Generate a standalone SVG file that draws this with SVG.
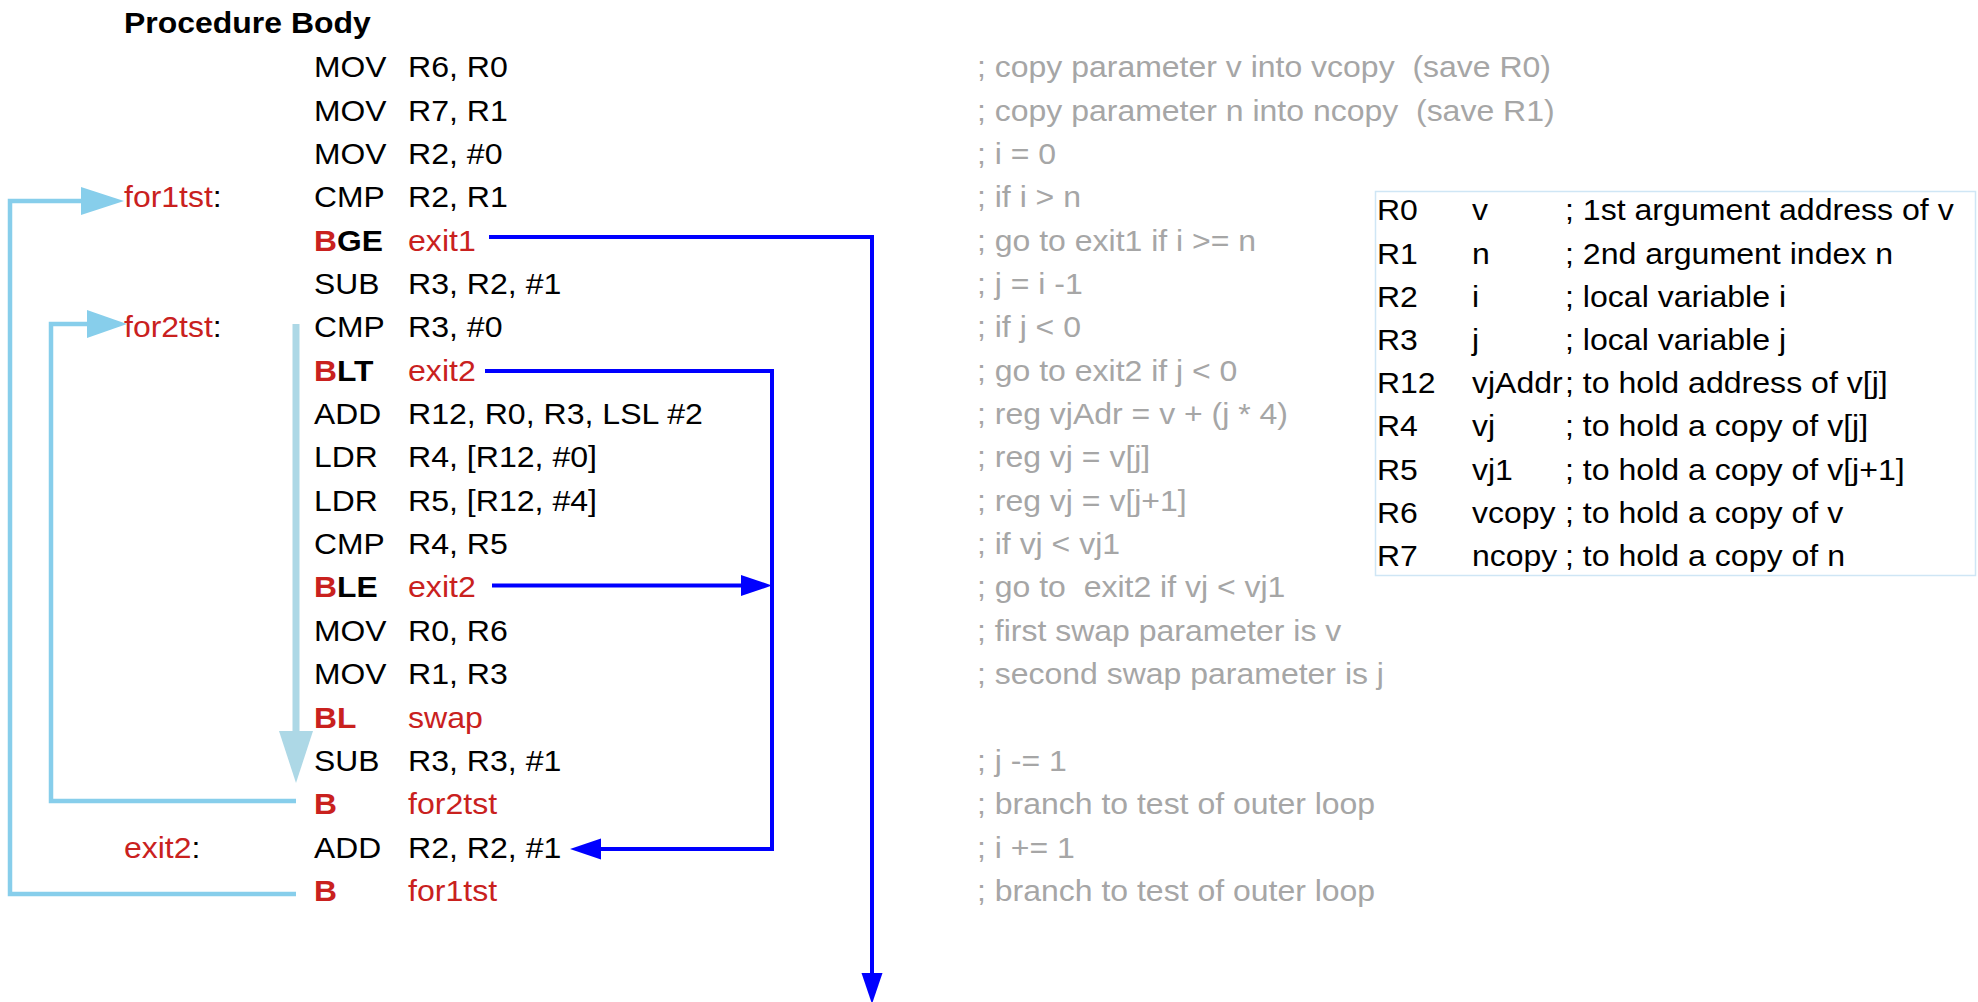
<svg xmlns="http://www.w3.org/2000/svg" width="1978" height="1002" viewBox="0 0 1978 1002">
<style>
text{font-family:"Liberation Sans",Arial,sans-serif;font-size:30px;fill:#000;white-space:pre}
.r{fill:#c9211e}
.b{font-weight:bold}
.c{fill:#a6a6a6}
.sky{fill:none;stroke:#87ceeb;stroke-width:4.5}
.blu{fill:none;stroke:#0000ff;stroke-width:4}
</style>
<rect width="1978" height="1002" fill="#fff"/>
<g id="title" transform="translate(124 0) scale(1.065 1)"><text x="0" y="33" class="b">Procedure Body</text></g>
<g id="labels" transform="translate(124 0) scale(1.065 1)">
<text x="0" y="207.35"><tspan class="r">for1tst</tspan>:</text>
<text x="0" y="337.4"><tspan class="r">for2tst</tspan>:</text>
<text x="0" y="857.6"><tspan class="r">exit2</tspan>:</text>
</g>
<g id="code">
<g id="mnemonics" transform="translate(314 0) scale(1.06 1)">
<text x="0" y="77.3">MOV</text>
<text x="0" y="120.65">MOV</text>
<text x="0" y="164">MOV</text>
<text x="0" y="207.35">CMP</text>
<text x="0" y="250.7" class="b"><tspan class="r">B</tspan>GE</text>
<text x="0" y="294.05">SUB</text>
<text x="0" y="337.4">CMP</text>
<text x="0" y="380.75" class="b"><tspan class="r">B</tspan>LT</text>
<text x="0" y="424.1">ADD</text>
<text x="0" y="467.45">LDR</text>
<text x="0" y="510.8">LDR</text>
<text x="0" y="554.15">CMP</text>
<text x="0" y="597.5" class="b"><tspan class="r">B</tspan>LE</text>
<text x="0" y="640.85">MOV</text>
<text x="0" y="684.2">MOV</text>
<text x="0" y="727.55" class="b r">BL</text>
<text x="0" y="770.9">SUB</text>
<text x="0" y="814.25" class="b r">B</text>
<text x="0" y="857.6">ADD</text>
<text x="0" y="900.95" class="b r">B</text>
</g>
<g id="operands" transform="translate(408 0) scale(1.07 1)">
<text x="0" y="77.3">R6, R0</text>
<text x="0" y="120.65">R7, R1</text>
<text x="0" y="164">R2, #0</text>
<text x="0" y="207.35">R2, R1</text>
<text x="0" y="250.7" class="r">exit1</text>
<text x="0" y="294.05">R3, R2, #1</text>
<text x="0" y="337.4">R3, #0</text>
<text x="0" y="380.75" class="r">exit2</text>
<text x="0" y="424.1">R12, R0, R3, LSL #2</text>
<text x="0" y="467.45">R4, [R12, #0]</text>
<text x="0" y="510.8">R5, [R12, #4]</text>
<text x="0" y="554.15">R4, R5</text>
<text x="0" y="597.5" class="r">exit2</text>
<text x="0" y="640.85">R0, R6</text>
<text x="0" y="684.2">R1, R3</text>
<text x="0" y="727.55" class="r">swap</text>
<text x="0" y="770.9">R3, R3, #1</text>
<text x="0" y="814.25" class="r">for2tst</text>
<text x="0" y="857.6">R2, R2, #1</text>
<text x="0" y="900.95" class="r">for1tst</text>
</g>
</g>
<g id="comments" transform="translate(977 0) scale(1.066 1)">
<text x="0" y="77.3" class="c">; copy parameter v into vcopy  (save R0)</text>
<text x="0" y="120.65" class="c">; copy parameter n into ncopy  (save R1)</text>
<text x="0" y="164" class="c">; i = 0</text>
<text x="0" y="207.35" class="c">; if i &gt; n</text>
<text x="0" y="250.7" class="c">; go to exit1 if i &gt;= n</text>
<text x="0" y="294.05" class="c">; j = i -1</text>
<text x="0" y="337.4" class="c">; if j &lt; 0</text>
<text x="0" y="380.75" class="c">; go to exit2 if j &lt; 0</text>
<text x="0" y="424.1" class="c">; reg vjAdr = v + (j * 4)</text>
<text x="0" y="467.45" class="c">; reg vj = v[j]</text>
<text x="0" y="510.8" class="c">; reg vj = v[j+1]</text>
<text x="0" y="554.15" class="c">; if vj &lt; vj1</text>
<text x="0" y="597.5" class="c">; go to  exit2 if vj &lt; vj1</text>
<text x="0" y="640.85" class="c">; first swap parameter is v</text>
<text x="0" y="684.2" class="c">; second swap parameter is j</text>
<text x="0" y="770.9" class="c">; j -= 1</text>
<text x="0" y="814.25" class="c">; branch to test of outer loop</text>
<text x="0" y="857.6" class="c">; i += 1</text>
<text x="0" y="900.95" class="c">; branch to test of outer loop</text>
</g>
<g id="register-table">
<rect x="1375.5" y="191.5" width="600" height="384" fill="none" stroke="#cfe6f5" stroke-width="1.5"/>
<g transform="translate(1377 0) scale(1.065 1)">
<text x="0" y="220.5">R0</text>
<text x="0" y="263.7">R1</text>
<text x="0" y="306.9">R2</text>
<text x="0" y="350.1">R3</text>
<text x="0" y="393.3">R12</text>
<text x="0" y="436.5">R4</text>
<text x="0" y="479.7">R5</text>
<text x="0" y="522.9">R6</text>
<text x="0" y="566.1">R7</text>
</g>
<g transform="translate(1472 0) scale(1.065 1)">
<text x="0" y="220.5">v</text>
<text x="0" y="263.7">n</text>
<text x="0" y="306.9">i</text>
<text x="0" y="350.1">j</text>
<text x="0" y="393.3">vjAddr</text>
<text x="0" y="436.5">vj</text>
<text x="0" y="479.7">vj1</text>
<text x="0" y="522.9">vcopy</text>
<text x="0" y="566.1">ncopy</text>
</g>
<g transform="translate(1565 0) scale(1.07 1)">
<text x="0" y="220.5">; 1st argument address of v</text>
<text x="0" y="263.7">; 2nd argument index n</text>
<text x="0" y="306.9">; local variable i</text>
<text x="0" y="350.1">; local variable j</text>
<text x="0" y="393.3">; to hold address of v[j]</text>
<text x="0" y="436.5">; to hold a copy of v[j]</text>
<text x="0" y="479.7">; to hold a copy of v[j+1]</text>
<text x="0" y="522.9">; to hold a copy of v</text>
<text x="0" y="566.1">; to hold a copy of n</text>
</g>
</g>
<g id="connectors">
<polyline class="sky" points="296,894 10,894 10,201 82,201"/>
<polygon points="81,187 124,201 81,215" fill="#87ceeb"/>
<polyline class="sky" points="296,801 51,801 51,324 88,324"/>
<polygon points="87,310 127,324 87,338" fill="#87ceeb"/>
<line x1="296" y1="324" x2="296" y2="733" stroke="#add8e6" stroke-width="7"/>
<polygon points="279,731 313,731 296,783" fill="#add8e6"/>
<polyline class="blu" points="489,237 872,237 872,975"/>
<polygon points="861.5,973 882.5,973 872,1004" fill="#0000ff"/>
<polyline class="blu" points="485,371 772,371 772,849 600,849"/>
<polygon points="601,838.5 570,849 601,859.5" fill="#0000ff"/>
<line class="blu" x1="492" y1="585.5" x2="742" y2="585.5"/>
<polygon points="741,575 772,585.5 741,596" fill="#0000ff"/>
</g>
</svg>
